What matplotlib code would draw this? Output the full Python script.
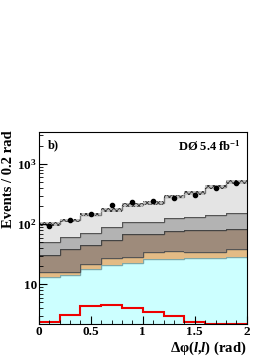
import matplotlib
matplotlib.use("Agg")
import matplotlib.pyplot as plt
import numpy as np
from matplotlib.ticker import FixedLocator, LogLocator, MultipleLocator, NullFormatter

plt.rcParams["font.family"] = ["Liberation Serif", "DejaVu Serif"]
plt.rcParams["font.weight"] = "bold"
plt.rcParams["mathtext.fontset"] = "custom"
plt.rcParams["mathtext.rm"] = "Liberation Serif:bold"
plt.rcParams["mathtext.it"] = "Liberation Serif:bold:italic"
plt.rcParams["mathtext.bf"] = "Liberation Serif:bold"
plt.rcParams["hatch.linewidth"] = 0.6

# dphi(l,l) binning, 0.2 rad per bin
edges = np.round(np.arange(0, 2.01, 0.2), 2)

# stacked backgrounds, bottom to top (events per bin)
bkg_cyan = np.array([13.2, 14.5, 17.8, 21.0, 22.4, 26.1, 26.1, 27.1, 27.1, 28.2])
bkg_orange = np.array([2.6, 1.7, 4.3, 6.4, 5.8, 8.9, 9.8, 7.9, 7.9, 10.6])
bkg_brown = np.array([14.6, 22.1, 22.5, 27.3, 40.7, 33.9, 42.4, 44.3, 45.4, 43.6])
bkg_gray = np.array([20.3, 22.4, 28.0, 34.3, 39.1, 42.1, 50.7, 54.7, 62.6, 69.6])
bkg_light = np.array([50.3, 55.3, 72.4, 84.0, 99.0, 115.0, 160.0, 194.0, 270.0, 348.0])
syst_frac = 0.07

data = np.array([92.5, 118, 150, 207, 232, 245, 278, 304, 398, 482])
signal = np.array([2.33, 3.12, 4.4, 4.58, 3.98, 3.5, 2.96, 2.41, 0.0, 0.0])

ymin, ymax = 2.18, 3400

stack = [
    (bkg_cyan, "#ccffff", "#7fa8a8"),
    (bkg_orange, "#e3bb85", "#555555"),
    (bkg_brown, "#9e8b7b", "#444444"),
    (bkg_gray, "#b3b3b3", "#555555"),
    (bkg_light, "#e4e4e4", "#777777"),
]

fig = plt.figure(figsize=(2.8, 3.63), dpi=100)
ax = fig.add_axes([0.139, 0.107, 0.742, 0.529])
ax.set_yscale("log")

base = np.full(len(bkg_cyan), 1e-3)
for vals, face, edge in stack:
    top = base + vals
    ax.stairs(top, edges, baseline=base, fill=True, color=face, lw=0)
    ax.stairs(top, edges, baseline=None, color=edge, lw=1.0)
    base = top

total = base
ax.stairs(total * (1 + syst_frac), edges, baseline=total * (1 - syst_frac), fill=True,
          facecolor="#bdbdbd", edgecolor="#333333", hatch="xxxxxx", lw=0)

ax.stairs(np.clip(signal, ymin, None), edges, baseline=None, color="#ee0000", lw=1.5)

centers = 0.5 * (edges[:-1] + edges[1:])
ax.plot(centers, data, "o", color="black", ms=3)

ax.set_xlim(0, 2)
ax.set_ylim(ymin, ymax)

ax.xaxis.set_minor_locator(MultipleLocator(0.1))
ax.set_xticks([0, 0.5, 1, 1.5, 2])
ax.set_xticklabels(["0", "0.5", "1", "1.5", "2"])
ax.yaxis.set_major_locator(FixedLocator([10, 100, 1000]))
ax.set_yticklabels(["10", "10$^{2}$", "10$^{3}$"])
ax.yaxis.set_minor_locator(LogLocator(base=10, subs=np.arange(2, 10)))
ax.yaxis.set_minor_formatter(NullFormatter())
ax.tick_params(which="both", direction="in", top=False, right=False, labelsize=9.5)
ax.tick_params(which="major", length=6, width=0.8)
ax.tick_params(which="minor", length=3, width=0.6)
ax.tick_params(axis="x", pad=1.5)
ax.tick_params(axis="y", pad=1.5)
for sp in ax.spines.values():
    sp.set_linewidth(0.8)

fig.text(0.03, 1 - 130 / 363, "Events / 0.2 rad", rotation=90, fontsize=10.5,
         fontweight="bold", ha="center", va="top")
ax.set_xlabel(r"Δφ($l$,$l$) (rad)", fontsize=10.5, fontweight="bold", loc="right", labelpad=1)

ax.text(0.045, 0.965, "b)", transform=ax.transAxes, fontsize=9, fontweight="bold",
        ha="left", va="top")
ax.text(0.97, 0.965, "DØ 5.4 fb$^{-1}$", transform=ax.transAxes, fontsize=9,
        fontweight="bold", ha="right", va="top")

fig.savefig("out.png", dpi=100)
